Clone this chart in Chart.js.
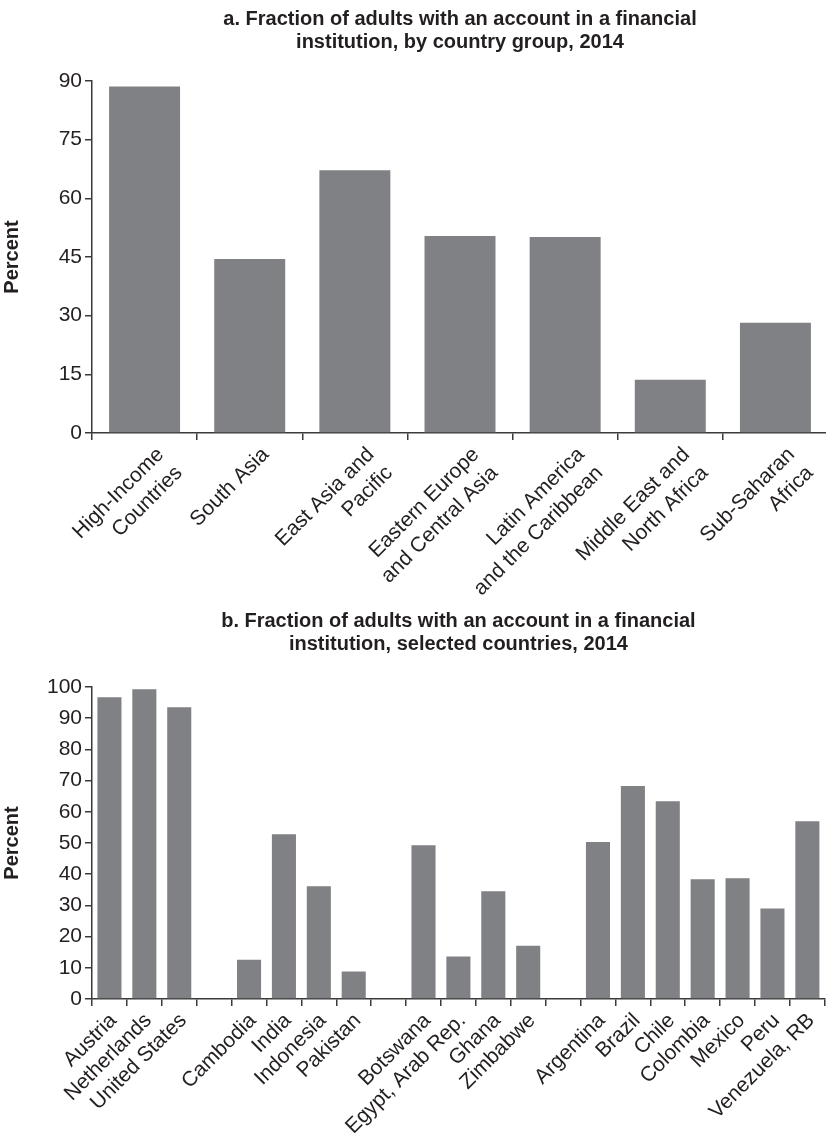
<!DOCTYPE html>
<html>
<head>
<meta charset="utf-8">
<script src="https://cdn.jsdelivr.net/npm/chart.js@4"></script>
<style>
html,body{margin:0;padding:0;background:#fff;overflow:hidden}
.box{position:absolute;left:0;width:828px}
#boxA{top:0;height:600px}
#boxB{top:600px;height:533px}
</style>
</head>
<body>
<div class="box" id="boxA"><canvas id="chartA"></canvas></div>
<div class="box" id="boxB"><canvas id="chartB"></canvas></div>
<script>
const groupLabels=[['High-Income','Countries'],'South Asia',['East Asia and','Pacific'],['Eastern Europe','and Central Asia'],['Latin America','and the Caribbean'],['Middle East and','North Africa'],['Sub-Saharan','Africa']];
const groupValues=[88.6,44.5,67.2,50.4,50.1,13.6,28.2];
const groupTicks={min:0,max:90,step:15};

const countryLabels=['Austria','Netherlands','United States','','Cambodia','India','Indonesia','Pakistan','','Botswana','Egypt, Arab Rep.','Ghana','Zimbabwe','','Argentina','Brazil','Chile','Colombia','Mexico','Peru','Venezuela, RB'];
const countryValues=[96.7,99.3,93.5,null,12.6,52.8,36.1,8.8,null,49.3,13.6,34.5,17.1,null,50.3,68.3,63.4,38.4,38.7,29.0,57.0];
const countryTicks={min:0,max:100,step:10};

const titleA=['a. Fraction of adults with an account in a financial','institution, by country group, 2014'];
const titleB=['b. Fraction of adults with an account in a financial','institution, selected countries, 2014'];

const BAR='#808184', AXIS='#3a3a3a', INK='#231f20';
Chart.defaults.font.family="'Liberation Sans', Arial, sans-serif";
Chart.defaults.color=INK;

function makeChart(id, labels, values, ticks, title, o){
  return new Chart(document.getElementById(id), {
    type:'bar',
    data:{labels, datasets:[{data:values, backgroundColor:BAR, barPercentage:o.barPct, categoryPercentage:1}]},
    options:{
      responsive:true, maintainAspectRatio:false, animation:false,
      layout:{padding:0},
      plugins:{
        legend:{display:false}, tooltip:{enabled:false},
        title:{display:true, text:title, fullSize:false, color:INK,
          font:{size:20, weight:'bold', lineHeight:1.15},
          padding:{top:o.titleTop, bottom:o.titleBottom}}
      },
      scales:{
        x:{
          grid:{display:true, drawOnChartArea:false, drawTicks:true, tickLength:7, color:AXIS, lineWidth:1.5, offset:true},
          border:{display:true, color:AXIS, width:1.5},
          ticks:{minRotation:45, maxRotation:45, autoSkip:false, padding:2, labelOffset:o.labelOffset, color:INK,
            font:{size:21, lineHeight:1.25}},
          afterFit(scale){ scale.height=o.xHeight }
        },
        y:{
          min:ticks.min, max:ticks.max,
          grid:{display:true, drawOnChartArea:false, drawTicks:true, tickLength:7, color:AXIS, lineWidth:1.5},
          border:{display:true, color:AXIS, width:1.5},
          ticks:{stepSize:ticks.step, padding:3, color:INK, font:{size:21}},
          title:{display:true, text:'Percent', color:INK, font:{size:20, weight:'bold'}, padding:{top:0,bottom:2}},
          afterFit(scale){ scale.width=92 }
        }
      }
    }
  });
}

makeChart('chartA', groupLabels, groupValues, groupTicks, titleA,
  {barPct:0.675, titleTop:8, titleBottom:27, xHeight:167, labelOffset:16});
makeChart('chartB', countryLabels, countryValues, countryTicks, titleB,
  {barPct:0.69, titleTop:10, titleBottom:31, xHeight:134, labelOffset:4});
</script>
</body>
</html>
